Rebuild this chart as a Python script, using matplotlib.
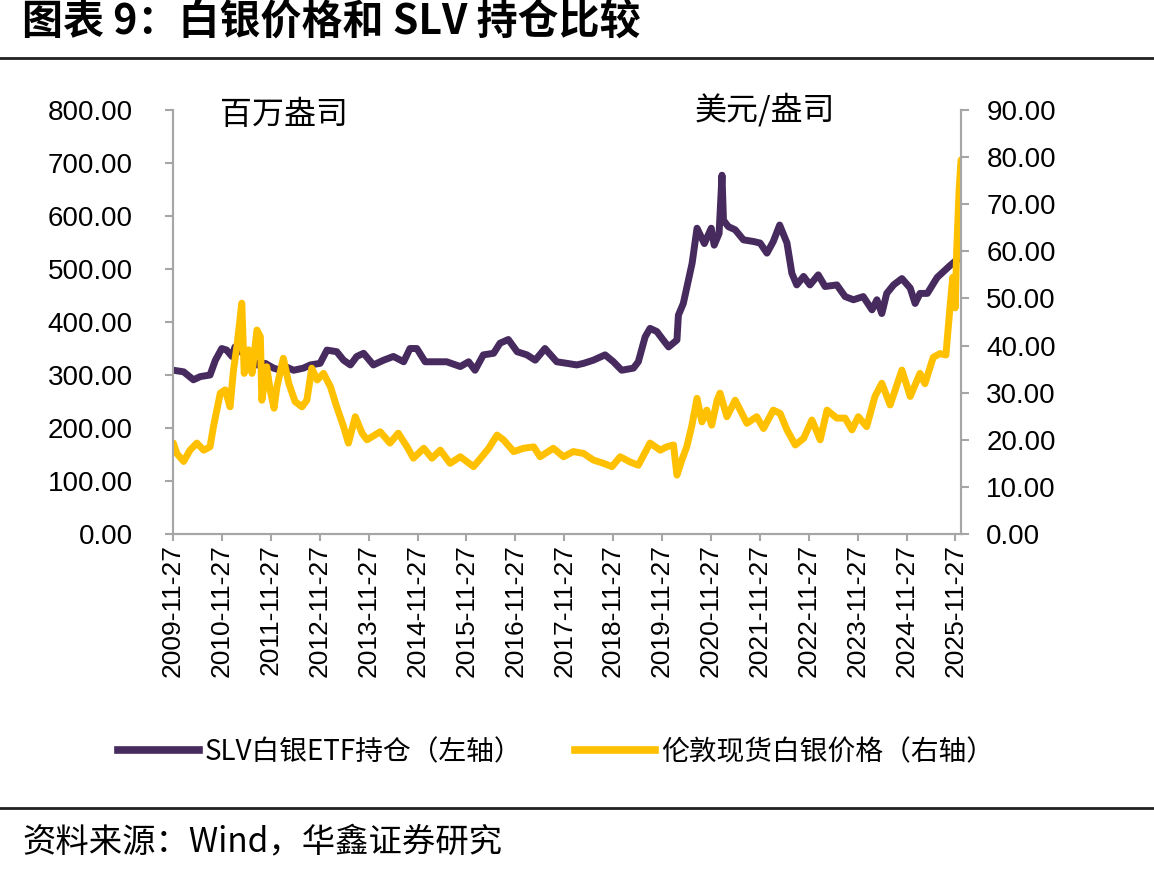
import pandas as pd
import matplotlib
matplotlib.use('Agg')
import matplotlib.pyplot as plt
from matplotlib.lines import Line2D

# SLV 白银ETF持仓 (百万盎司), 左轴; 时间为小数年份
slv_time = [
    2009.91, 2010.12, 2010.32, 2010.46, 2010.66, 2010.77, 2010.90, 2011.00, 2011.11, 2011.17,
    2011.28, 2011.48, 2011.62, 2011.79, 2011.96, 2012.10, 2012.20, 2012.37, 2012.57, 2012.71,
    2012.91, 2013.05, 2013.25, 2013.39, 2013.53, 2013.66, 2013.80, 2014.00, 2014.21, 2014.41,
    2014.62, 2014.75, 2014.89, 2015.06, 2015.30, 2015.50, 2015.78, 2015.95, 2016.08, 2016.25,
    2016.46, 2016.59, 2016.76, 2016.94, 2017.14, 2017.31, 2017.51, 2017.75, 2017.96, 2018.16,
    2018.30, 2018.50, 2018.74, 2018.91, 2019.08, 2019.32, 2019.42, 2019.56, 2019.66, 2019.80,
    2019.93, 2020.04, 2020.21, 2020.24, 2020.34, 2020.52, 2020.62, 2020.77, 2020.91, 2020.97,
    2021.07, 2021.13, 2021.16, 2021.26, 2021.40, 2021.57, 2021.77, 2021.91, 2022.05, 2022.18,
    2022.31, 2022.46, 2022.56, 2022.66, 2022.80, 2022.93, 2023.10, 2023.24, 2023.48, 2023.65,
    2023.82, 2024.02, 2024.20, 2024.30, 2024.40, 2024.50, 2024.64, 2024.81, 2024.98, 2025.08,
    2025.18, 2025.33, 2025.53, 2025.80, 2026.02,
]
slv_holdings = [
    309, 306, 291, 297, 300, 328, 350, 347, 335, 353,
    344, 338, 319, 322, 313, 309, 316, 309, 313, 319,
    322, 347, 344, 328, 319, 335, 341, 319, 328, 335,
    325, 350, 350, 325, 325, 325, 316, 325, 309, 338,
    341, 360, 367, 344, 338, 328, 350, 325, 322, 319,
    322, 328, 338, 325, 309, 313, 325, 372, 388, 382,
    366, 353, 366, 413, 435, 511, 577, 548, 577, 545,
    567, 677, 592, 580, 574, 555, 552, 549, 530, 552,
    583, 549, 492, 470, 486, 470, 489, 467, 470, 448,
    442, 448, 423, 442, 416, 454, 470, 482, 464, 435,
    454, 454, 484, 507, 524,
]

# 伦敦现货白银价格 (美元/盎司), 右轴
silver_time = [
    2009.91, 2009.98, 2010.12, 2010.25, 2010.39, 2010.53, 2010.66, 2010.73, 2010.87, 2010.97,
    2011.07, 2011.14, 2011.21, 2011.31, 2011.36, 2011.45, 2011.52, 2011.62, 2011.69, 2011.72,
    2011.82, 2011.89, 2011.97, 2012.03, 2012.16, 2012.27, 2012.40, 2012.54, 2012.64, 2012.74,
    2012.85, 2012.98, 2013.12, 2013.25, 2013.39, 2013.49, 2013.63, 2013.77, 2013.87, 2014.14,
    2014.34, 2014.51, 2014.69, 2014.82, 2015.03, 2015.20, 2015.37, 2015.57, 2015.78, 2016.05,
    2016.22, 2016.36, 2016.53, 2016.66, 2016.87, 2017.07, 2017.28, 2017.41, 2017.68, 2017.89,
    2018.09, 2018.30, 2018.50, 2018.71, 2018.88, 2019.05, 2019.25, 2019.42, 2019.66, 2019.87,
    2020.00, 2020.14, 2020.21, 2020.31, 2020.41, 2020.51, 2020.62, 2020.72, 2020.82, 2020.92,
    2021.03, 2021.09, 2021.23, 2021.40, 2021.64, 2021.84, 2021.98, 2022.18, 2022.32, 2022.46,
    2022.63, 2022.80, 2022.97, 2023.14, 2023.28, 2023.48, 2023.65, 2023.79, 2023.92, 2024.09,
    2024.26, 2024.40, 2024.57, 2024.81, 2024.98, 2025.18, 2025.28, 2025.45, 2025.59, 2025.71,
    2025.80, 2025.85, 2025.90, 2025.93, 2025.98, 2026.02,
]
silver_price = [
    19.3, 17.1, 15.4, 17.8, 19.3, 17.8, 18.5, 22.8, 29.9, 30.6,
    27.0, 34.8, 39.8, 49.0, 34.1, 39.1, 34.1, 43.3, 41.9, 28.4,
    35.5, 30.6, 26.7, 31.3, 37.3, 32.0, 28.1, 27.0, 28.4, 35.2,
    32.7, 34.1, 31.3, 27.0, 22.8, 19.3, 24.9, 21.4, 20.0, 21.7,
    19.3, 21.4, 18.5, 16.1, 18.2, 16.1, 17.8, 15.0, 16.4, 14.3,
    16.4, 18.2, 21.0, 20.0, 17.5, 18.2, 18.5, 16.4, 18.2, 16.4,
    17.5, 17.1, 15.7, 15.0, 14.3, 16.4, 15.3, 14.6, 19.3, 17.8,
    18.5, 18.9, 12.5, 15.7, 18.5, 22.8, 28.8, 23.8, 26.3, 23.1,
    28.4, 29.9, 24.9, 28.4, 23.5, 24.9, 22.4, 26.3, 25.6, 22.1,
    18.9, 20.3, 24.2, 20.0, 26.3, 24.6, 24.6, 22.1, 24.9, 22.8,
    29.2, 32.0, 27.4, 34.8, 29.2, 34.1, 31.9, 37.5, 38.3, 38.0,
    48.9, 54.5, 48.0, 60.0, 73.0, 79.4,
]

tick_years = list(range(2009, 2026))
left_ticks = [0, 100, 200, 300, 400, 500, 600, 700, 800]
right_ticks = [0, 10, 20, 30, 40, 50, 60, 70, 80, 90]

purple = '#472A5E'
gold = '#FFC000'
axis_gray = '#A6A6A6'
cjk = ['Noto Sans CJK SC', 'DejaVu Sans']
num_font = 'Liberation Sans'


def to_dates(years):
    out = []
    for t in years:
        y = int(t)
        start = pd.Timestamp(year=y, month=1, day=1)
        end = pd.Timestamp(year=y + 1, month=1, day=1)
        out.append(start + (t - y) * (end - start))
    return out


fig = plt.figure(figsize=(11.54, 8.76), dpi=100)
ax = fig.add_axes([0.150, 0.3904, 0.683, 0.4840])
ax2 = ax.twinx()

ax.plot(to_dates(slv_time), slv_holdings, color=purple, lw=5,
        solid_joinstyle='round', solid_capstyle='round')
ax2.plot(to_dates(silver_time), silver_price, color=gold, lw=5,
         solid_joinstyle='round', solid_capstyle='round')

ax.set_xlim(pd.Timestamp('2009-11-27'), pd.Timestamp('2026-01-10'))
ax.set_ylim(0, 800)
ax2.set_ylim(0, 90)

xt = [pd.Timestamp(f'{y}-11-27') for y in tick_years]
ax.set_xticks(xt)
ax.set_xticklabels([t.strftime('%Y-%m-%d') for t in xt], rotation=90,
                   fontsize=19, family=num_font)
ax.set_yticks(left_ticks)
ax.set_yticklabels([f'{v:.2f}' for v in left_ticks], fontsize=20, family=num_font)
ax2.set_yticks(right_ticks)
ax2.set_yticklabels([f'{v:.2f}' for v in right_ticks], fontsize=20, family=num_font)

for a in (ax, ax2):
    a.spines['top'].set_visible(False)
    for s in ('left', 'right', 'bottom'):
        a.spines[s].set_color(axis_gray)
        a.spines[s].set_linewidth(1.5)
ax.tick_params(axis='y', direction='out', length=6, width=1.5, color=axis_gray, pad=23)
ax.tick_params(axis='x', direction='out', length=5, width=1.5, color=axis_gray, pad=2)
ax2.tick_params(axis='y', direction='out', length=6, width=1.5, color=axis_gray, pad=12)

# 单位标注
fig.text(220 / 1154, 1 - 115 / 876, '百万盎司', fontsize=23, family=cjk, va='center')
fig.text(695 / 1154, 1 - 110 / 876, '美元/盎司', fontsize=23, family=cjk, va='center')

# 标题与分隔线
fig.text(22 / 1154, 1 - 22 / 876, '图表 9：白银价格和 SLV 持仓比较', fontsize=29.5,
         fontweight='bold', family=cjk, va='center')
fig.add_artist(Line2D([0, 1], [1 - 58 / 876] * 2, color='#222222', lw=2,
                      transform=fig.transFigure))
fig.add_artist(Line2D([0, 1], [1 - 808 / 876] * 2, color='#222222', lw=2,
                      transform=fig.transFigure))
fig.text(22 / 1154, 1 - 843 / 876, '资料来源：Wind，华鑫证券研究', fontsize=24,
         family=cjk, va='center')

handles = [Line2D([], [], color=purple, lw=5.5),
           Line2D([], [], color=gold, lw=5.5)]
fig.legend(handles, ['SLV白银ETF持仓（左轴）', '伦敦现货白银价格（右轴）'],
           loc='center', bbox_to_anchor=(0.482, 1 - 752 / 876), ncol=2, frameon=False,
           prop={'family': cjk, 'size': 20}, handlelength=2.9, handletextpad=0.2,
           columnspacing=1.9)

fig.savefig('out.png', dpi=100)
